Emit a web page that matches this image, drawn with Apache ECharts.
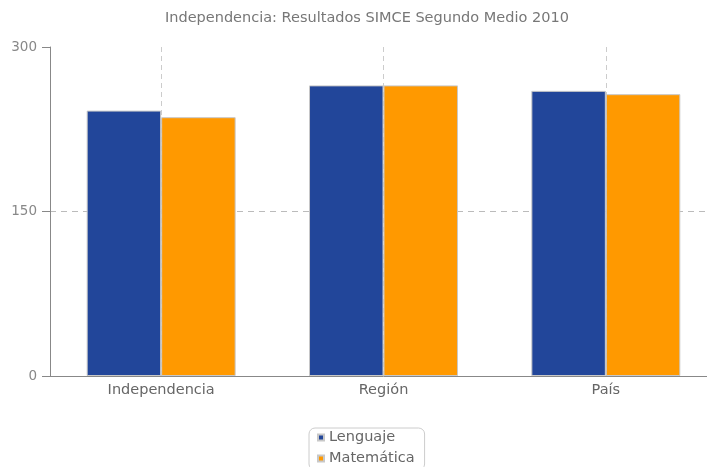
<!DOCTYPE html>
<html>
<head>
<meta charset="utf-8">
<script src="https://cdn.jsdelivr.net/npm/echarts@6/dist/echarts.min.js"></script>
<style>html,body{margin:0;padding:0;background:#fff;overflow:hidden}#c{width:717px;height:467px}</style>
</head>
<body>
<div id="c"></div>
<script>
const titleText = 'Independencia: Resultados SIMCE Segundo Medio 2010';
const categories = ['Independencia', 'Región', 'País'];
const seriesNames = ['Lenguaje', 'Matemática'];
const lenguaje = [242, 265, 260];
const matematica = [236, 265, 257];
const yTicks = [0, 150, 300];

const chart = echarts.init(document.getElementById('c'));
const font = 'DejaVu Sans';
chart.setOption({
  animation: false,
  title: {
    text: titleText, left: 160, top: 6,
    textStyle: {fontFamily: font, fontSize: 14.5, fontWeight: 'normal', color: '#777'}
  },
  legend: {
    data: seriesNames, orient: 'vertical', left: 309, top: 428, height: 60,
    icon: 'rect', itemWidth: 6, itemHeight: 6, itemGap: 6,
    padding: [2, 10, 4, 8],
    borderColor: '#ccc', borderWidth: 1, borderRadius: 6,
    textStyle: {fontFamily: font, fontSize: 14.5, color: '#666', padding: [0, 0, 0, 0]}
  },
  grid: {left: 50, top: 47, bottom: 91, right: 0, containLabel: false},
  xAxis: {
    type: 'category', data: categories,
    axisLine: {lineStyle: {color: '#888', width: 1}},
    axisTick: {show: false},
    axisLabel: {fontFamily: font, fontSize: 14.5, color: '#666', margin: 7},
    splitLine: {show: true, alignWithLabel: true, lineStyle: {color: '#ccc', type: [5, 4]}}
  },
  yAxis: {
    type: 'value', min: yTicks[0], max: yTicks[2], interval: yTicks[1] - yTicks[0],
    axisLine: {show: true, lineStyle: {color: '#888', width: 1}},
    axisTick: {show: true, length: 8, lineStyle: {color: '#888'}},
    axisLabel: {fontFamily: font, fontSize: 13.5, color: '#888', margin: 13},
    splitLine: {show: true, showMinLine: false, showMaxLine: false, lineStyle: {color: '#bbb', type: [6, 5]}}
  },
  series: [
    {name: seriesNames[0], type: 'bar', data: lenguaje, barGap: '0%', barCategoryGap: '33%',
     itemStyle: {color: '#22469a', borderColor: '#c8c8c8', borderWidth: 1}},
    {name: seriesNames[1], type: 'bar', data: matematica,
     itemStyle: {color: '#ff9900', borderColor: '#c8c8c8', borderWidth: 1}}
  ]
});
</script>
</body>
</html>
